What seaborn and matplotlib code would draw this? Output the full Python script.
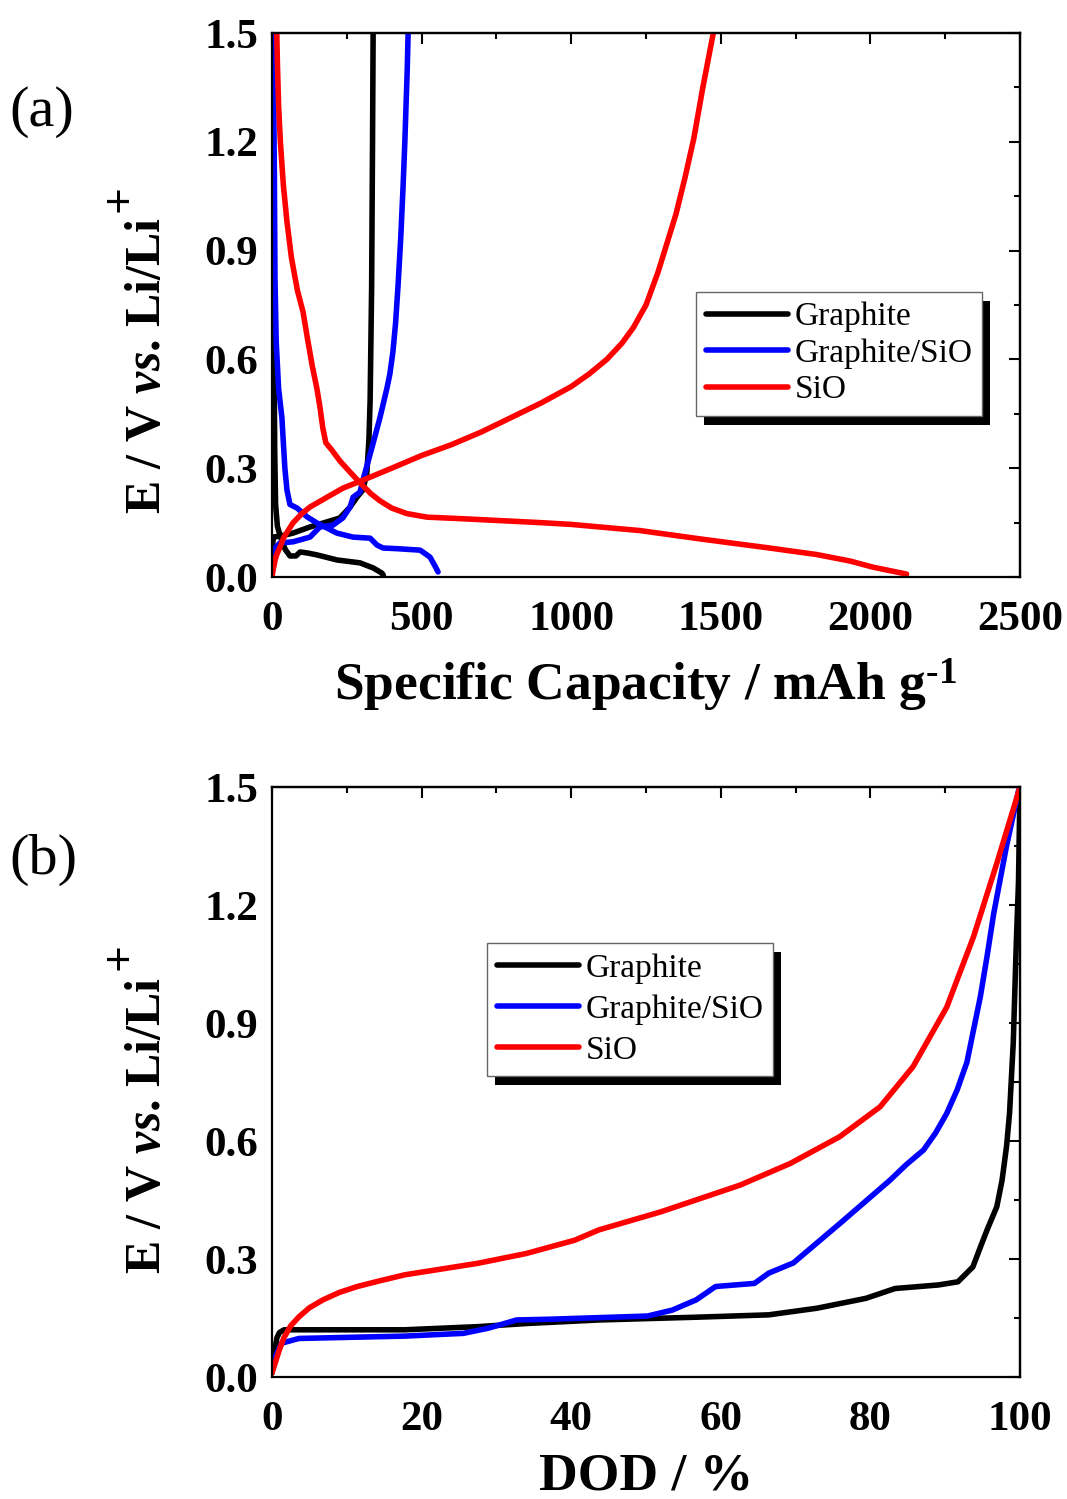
import matplotlib
matplotlib.use('Agg')
import matplotlib.pyplot as plt
import seaborn as sns
from matplotlib.ticker import MultipleLocator, FormatStrFormatter
from matplotlib.patches import Rectangle
from matplotlib.transforms import IdentityTransform

# (a) capacity curves, mAh/g vs V
gr_dis_cap = [3, 5, 7, 9, 12, 18, 25, 35, 45, 60, 80, 94, 120, 150, 217, 294, 338, 367, 372]
gr_dis_v = [1.5, 1.0, 0.6, 0.35, 0.2, 0.14, 0.12, 0.095, 0.075, 0.058, 0.058, 0.069, 0.066, 0.061, 0.047, 0.039, 0.025, 0.011, 0.005]
gr_chg_cap = [0, 2, 5, 40, 70, 127, 184, 227, 261, 284, 304, 317, 324, 328, 333, 336, 338]
gr_chg_v = [0.02, 0.09, 0.11, 0.115, 0.121, 0.138, 0.152, 0.163, 0.193, 0.22, 0.24, 0.287, 0.38, 0.488, 0.8, 1.2, 1.5]

bl_dis_cap = [4, 6, 8, 10, 14, 22, 33, 38, 43, 50, 60, 84, 117, 150, 184, 217, 271, 328, 351, 371, 420, 495, 528, 545, 555]
bl_dis_v = [1.5, 1.3, 1.1, 0.82, 0.65, 0.52, 0.44, 0.37, 0.30, 0.24, 0.20, 0.19, 0.166, 0.149, 0.135, 0.121, 0.11, 0.107, 0.088, 0.080, 0.078, 0.074, 0.055, 0.03, 0.014]
bl_chg_cap = [0, 3, 10, 27, 70, 127, 160, 204, 237, 261, 271, 294, 304, 338, 361, 384, 394, 404, 413, 421, 430, 438, 444, 448, 452, 455]
bl_chg_v = [0.03, 0.06, 0.08, 0.094, 0.097, 0.11, 0.138, 0.143, 0.163, 0.193, 0.22, 0.234, 0.267, 0.369, 0.44, 0.52, 0.56, 0.62, 0.70, 0.80, 0.93, 1.075, 1.2, 1.3, 1.4, 1.5]

rd_dis_cap = [16, 18, 22, 28, 38, 50, 65, 85, 104, 118, 135, 150, 160, 170, 180, 200, 227, 260, 294, 330, 361, 400,
              450, 518, 628, 896, 1000, 1230, 1431, 1653, 1820, 1932, 2009, 2121]
rd_dis_v = [1.5, 1.42, 1.3, 1.2, 1.08, 0.98, 0.88, 0.79, 0.73, 0.66, 0.58, 0.52, 0.47, 0.41, 0.37, 0.35, 0.32, 0.29, 0.26, 0.23, 0.21, 0.19,
            0.175, 0.165, 0.161, 0.15, 0.145, 0.128, 0.105, 0.081, 0.062, 0.044, 0.027, 0.008]
rd_chg_cap = [0, 4, 10, 15, 27, 40, 70, 100, 127, 184, 237, 304, 400, 500, 600, 700, 800, 900, 1000, 1060, 1119, 1170,
              1208, 1250, 1290, 1320, 1350, 1380, 1410, 1440, 1475]
rd_chg_v = [0.0, 0.02, 0.045, 0.06, 0.083, 0.11, 0.149, 0.175, 0.193, 0.22, 0.245, 0.267, 0.30, 0.335, 0.365, 0.40, 0.44, 0.48, 0.525, 0.56, 0.60, 0.645,
            0.688, 0.75, 0.84, 0.92, 1.0, 1.1, 1.21, 1.35, 1.5]

# (b) depth of discharge, % vs V
gr_dod = [0, 0.3, 0.66, 1.0, 1.6, 4.7, 17.7, 27.5, 34, 43.7, 56.7, 66.4, 72.9, 79.4, 83.3, 89.1, 91.7, 93.7, 94.7, 95.6, 96.9,
          97.6, 98.2, 98.6, 99.1, 99.5, 99.8, 100]
gr_dod_v = [0.01, 0.06, 0.10, 0.113, 0.12, 0.12, 0.12, 0.128, 0.136, 0.145, 0.152, 0.158, 0.175, 0.20, 0.225, 0.234, 0.242, 0.28, 0.33, 0.374, 0.433,
            0.5, 0.586, 0.67, 0.85, 1.1, 1.26, 1.5]
bl_dod = [0, 0.2, 1.3, 3.6, 17.8, 25.6, 28.9, 32.7, 37.3, 50.2, 53.5, 56.7, 59.3, 64.5, 66.4, 69.7, 75.9, 82.6, 84.8, 87.1, 88.7,
          90.2, 91.6, 92.9, 94.7, 95.6, 96.5, 97.4, 98.2, 99, 99.8, 100]
bl_dod_v = [0.03, 0.043, 0.086, 0.098, 0.104, 0.111, 0.124, 0.145, 0.147, 0.155, 0.17, 0.196, 0.23, 0.238, 0.264, 0.29, 0.39, 0.50, 0.54, 0.577, 0.62,
            0.67, 0.73, 0.80, 0.967, 1.07, 1.18, 1.27, 1.35, 1.42, 1.49, 1.5]
rd_dod = [0, 0.5, 1.0, 1.6, 2.5, 3.6, 5, 6.8, 9, 11.4, 14.5, 17.8, 27.5, 34, 40.5, 43.7, 52, 62.6, 69.3, 75.9, 81.3, 85.7, 90.2,
          93.8, 96.9, 100]
rd_dod_v = [0.01, 0.04, 0.07, 0.10, 0.13, 0.153, 0.176, 0.196, 0.215, 0.23, 0.245, 0.26, 0.289, 0.314, 0.348, 0.374, 0.42, 0.488, 0.543, 0.611, 0.687, 0.789, 0.94,
            1.12, 1.306, 1.5]

names = ['Graphite', 'Graphite/SiO', 'SiO']
colors = ['black', 'blue', 'red']

sns.set_theme(style='white')
plt.rcParams['font.family'] = ['Liberation Serif', 'DejaVu Serif']
plt.rcParams['mathtext.fontset'] = 'custom'
plt.rcParams['mathtext.rm'] = 'Liberation Serif:bold'
plt.rcParams['mathtext.bf'] = 'Liberation Serif:bold'
plt.rcParams['mathtext.it'] = 'Liberation Serif:italic:bold'
for key in ['text.color', 'axes.labelcolor', 'xtick.color', 'ytick.color', 'axes.edgecolor']:
    plt.rcParams[key] = 'black'

W, H = 1067, 1499
fig = plt.figure(figsize=(W / 100, H / 100), dpi=100)
ax_a = fig.add_axes([272 / W, 1 - 577 / H, 748 / W, 544 / H])
ax_b = fig.add_axes([272 / W, 1 - 1377 / H, 748 / W, 590 / H])

lw = 4.0
curves_a = [(gr_dis_cap, gr_dis_v, gr_chg_cap, gr_chg_v),
            (bl_dis_cap, bl_dis_v, bl_chg_cap, bl_chg_v),
            (rd_dis_cap, rd_dis_v, rd_chg_cap, rd_chg_v)]
for name, c, (x1, y1, x2, y2) in zip(names, colors, curves_a):
    sns.lineplot(x=x1, y=y1, sort=False, estimator=None, color=c, linewidth=lw, ax=ax_a,
                 label=name, solid_capstyle='round', solid_joinstyle='round')
    sns.lineplot(x=x2, y=y2, sort=False, estimator=None, color=c, linewidth=lw, ax=ax_a,
                 label='_nolegend_', solid_capstyle='round', solid_joinstyle='round')

curves_b = [(gr_dod, gr_dod_v), (bl_dod, bl_dod_v), (rd_dod, rd_dod_v)]
for name, c, (x1, y1) in zip(names, colors, curves_b):
    sns.lineplot(x=x1, y=y1, sort=False, estimator=None, color=c, linewidth=lw, ax=ax_b,
                 label=name, solid_capstyle='round', solid_joinstyle='round')


def style_axes(ax, xmax, xmaj, xmin_step, xlabel, xlab_y, ylab_y, plus_y):
    ax.set_xlim(0, xmax)
    ax.set_ylim(0, 1.5)
    ax.xaxis.set_major_locator(MultipleLocator(xmaj))
    ax.xaxis.set_minor_locator(MultipleLocator(xmin_step))
    ax.yaxis.set_major_locator(MultipleLocator(0.3))
    ax.yaxis.set_minor_locator(MultipleLocator(0.15))
    ax.yaxis.set_major_formatter(FormatStrFormatter('%.1f'))
    for s in ax.spines.values():
        s.set_linewidth(1.6)
        s.set_color('black')
    ax.tick_params(which='both', direction='out', top=False, right=False, width=1.5,
                   colors='black')
    ax.tick_params(which='major', length=8)
    ax.tick_params(which='minor', length=4)
    ax.tick_params(axis='x', which='both', pad=9, labelsize=31)
    ax.tick_params(axis='y', which='both', pad=2, labelsize=31)
    for lab in ax.get_xticklabels() + ax.get_yticklabels():
        lab.set_fontweight('bold')
    # inward ticks on top and right
    top = ax.secondary_xaxis('top')
    top.xaxis.set_major_locator(MultipleLocator(xmaj))
    top.xaxis.set_minor_locator(MultipleLocator(xmin_step))
    top.tick_params(which='both', direction='in', labeltop=False, width=1.5, colors='black')
    top.tick_params(which='major', length=8)
    top.tick_params(which='minor', length=4)
    top.spines['top'].set_linewidth(1.6)
    right = ax.secondary_yaxis('right')
    right.yaxis.set_major_locator(MultipleLocator(0.3))
    right.yaxis.set_minor_locator(MultipleLocator(0.15))
    right.tick_params(which='both', direction='in', labelright=False, width=1.5, colors='black')
    right.tick_params(which='major', length=8)
    right.tick_params(which='minor', length=4)
    right.spines['right'].set_linewidth(1.6)

    ax.set_xlabel(xlabel, fontsize=38.5, fontweight='bold', va='center')
    ax.xaxis.set_label_coords(0.5, xlab_y)
    ax.set_ylabel(r'E / V $\mathit{vs}$. Li/Li', fontsize=36, fontweight='bold',
                  va='center', ha='center')
    ax.yaxis.set_label_coords((148 - 272) / 748, ylab_y)
    # full size superscript plus, as in the original label
    fig.text(122 / W, 1 - plus_y / H, '+', fontsize=34, fontweight='bold', rotation=90,
             ha='center', va='center')


style_axes(ax_a, 2500, 500, 250, r'Specific Capacity / mAh g$^{\text{-1}}$',
           (577 - 685) / 544, (577 - 365) / 544, 198)
style_axes(ax_b, 100, 20, 10, 'DOD / %', (1377 - 1476) / 590, (1377 - 1125) / 590, 956)

fig.text(42 / W, 1 - 112 / H, '(a)', fontsize=42, ha='center', va='center')
fig.text(43 / W, 1 - 860 / H, '(b)', fontsize=42, ha='center', va='center')

legends = []
for ax, (lx, ly), sp in [(ax_a, (696, 292), 0.18), (ax_b, (487, 943), 0.32)]:
    leg = ax.legend(loc='upper left', bbox_to_anchor=(lx / W, 1 - ly / H),
                    bbox_transform=fig.transFigure, borderaxespad=0,
                    fontsize=24, frameon=True, fancybox=False, framealpha=1,
                    edgecolor='#666666', handlelength=2.45, handletextpad=0.2,
                    labelspacing=sp, borderpad=0.3)
    leg.get_frame().set_linewidth(1.0)
    for h in leg.get_lines():
        h.set_linewidth(lw)
        h.set_solid_capstyle('round')
    legends.append((ax, leg))

# black drop shadow behind each legend box
fig.canvas.draw()
for ax, leg in legends:
    bb = leg.get_window_extent()
    ax.add_artist(Rectangle((bb.x0 + 8, bb.y0 - 9), bb.width, bb.height,
                            transform=IdentityTransform(), facecolor='black',
                            edgecolor='none', zorder=4.9, clip_on=False))

fig.savefig('out.png', dpi=100)
